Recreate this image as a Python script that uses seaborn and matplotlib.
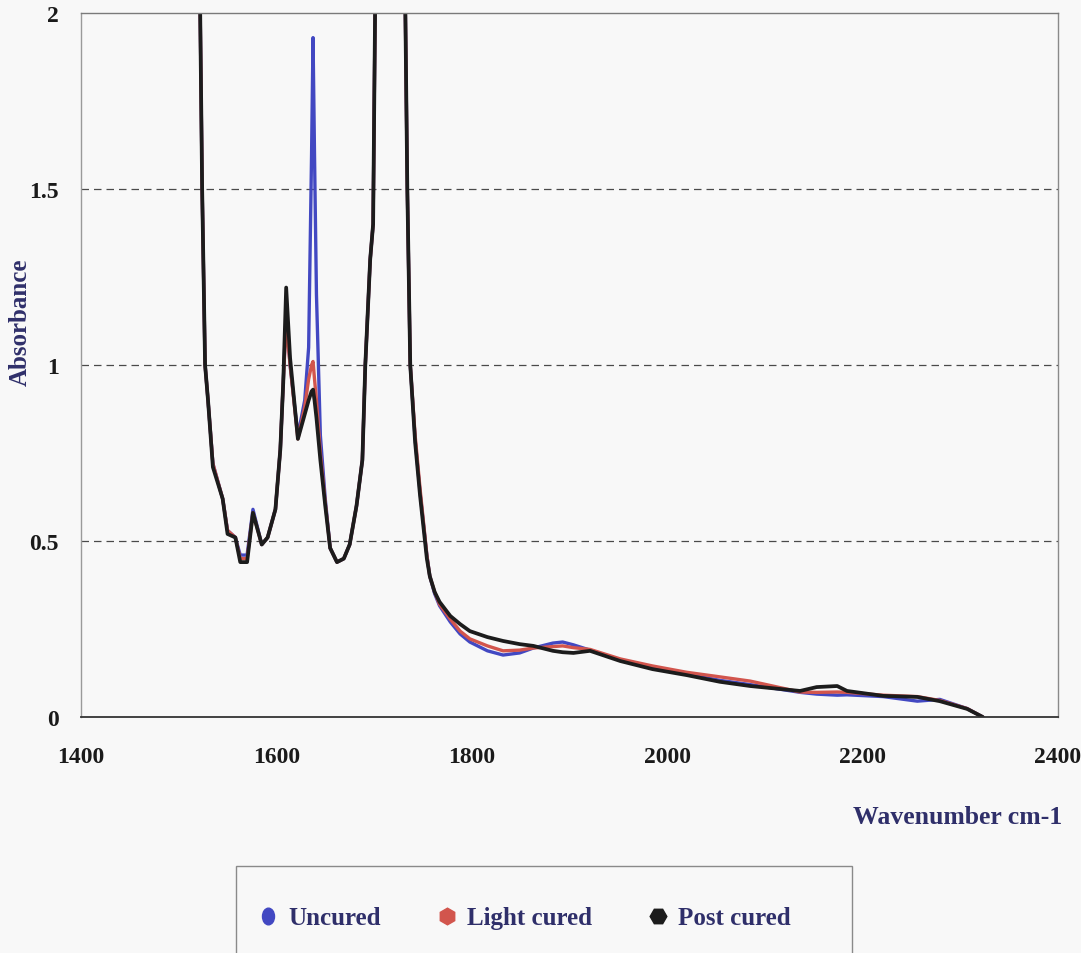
import numpy as np
import pandas as pd
import seaborn as sns
import matplotlib
matplotlib.use("Agg")
import matplotlib.pyplot as plt
from matplotlib.lines import Line2D
from matplotlib.patches import Rectangle
from matplotlib.markers import MarkerStyle
from matplotlib.transforms import Affine2D

# Wavenumber grid (cm-1) shared by the three spectra
wavenumber = [
    1522, 1524, 1527, 1530, 1535, 1545, 1550, 1558, 1563, 1570,
    1576, 1585, 1591, 1599, 1604, 1607, 1610, 1614, 1622, 1629,
    1633, 1636, 1637.5, 1639, 1641, 1645, 1650, 1655, 1662, 1669,
    1675, 1682, 1688, 1691, 1696, 1699, 1701, 1716, 1732, 1734,
    1737, 1742, 1747, 1754, 1757, 1762, 1767, 1778, 1788, 1798,
    1816, 1832, 1849, 1863, 1883, 1893, 1904, 1921, 1952, 1985,
    2020, 2054, 2085, 2136, 2153, 2174, 2184, 2221, 2256, 2279,
    2307, 2323,
]

uncured = [
    2.0, 1.5, 1.0, 0.90, 0.72, 0.62, 0.53, 0.51, 0.46, 0.46,
    0.59, 0.49, 0.51, 0.59, 0.76, 0.95, 1.15, 1.00, 0.80, 0.90,
    1.05, 1.60, 1.93, 1.60, 1.20, 0.80, 0.62, 0.48, 0.44, 0.45,
    0.49, 0.60, 0.73, 1.00, 1.30, 1.40, 2.0, 2.6, 2.0, 1.5,
    1.0, 0.79, 0.64, 0.46, 0.40, 0.35, 0.316, 0.27, 0.236, 0.213,
    0.188, 0.176, 0.182, 0.196, 0.210, 0.213, 0.205, 0.190, 0.162, 0.140,
    0.122, 0.104, 0.092, 0.070, 0.065, 0.062, 0.063, 0.058, 0.045, 0.050,
    0.024, 0.0,
]

light_cured = [
    2.0, 1.5, 1.0, 0.90, 0.72, 0.62, 0.53, 0.51, 0.45, 0.45,
    0.58, 0.49, 0.51, 0.59, 0.76, 0.95, 1.12, 1.00, 0.79, 0.88,
    0.96, 1.00, 1.01, 0.96, 0.90, 0.75, 0.61, 0.48, 0.44, 0.45,
    0.49, 0.60, 0.73, 1.00, 1.30, 1.40, 2.0, 2.6, 2.0, 1.5,
    1.0, 0.80, 0.65, 0.46, 0.40, 0.355, 0.32, 0.278, 0.244, 0.222,
    0.202, 0.188, 0.190, 0.196, 0.200, 0.202, 0.197, 0.192, 0.165, 0.145,
    0.127, 0.114, 0.102, 0.071, 0.070, 0.071, 0.070, 0.062, 0.058, 0.047,
    0.024, 0.0,
]

post_cured = [
    2.0, 1.5, 1.0, 0.90, 0.71, 0.62, 0.52, 0.51, 0.44, 0.44,
    0.58, 0.49, 0.51, 0.59, 0.76, 0.95, 1.22, 1.02, 0.79, 0.86,
    0.90, 0.925, 0.93, 0.90, 0.85, 0.73, 0.60, 0.48, 0.44, 0.45,
    0.49, 0.60, 0.73, 1.00, 1.30, 1.40, 2.0, 2.6, 2.0, 1.5,
    1.0, 0.78, 0.63, 0.45, 0.40, 0.355, 0.327, 0.287, 0.264, 0.244,
    0.227, 0.216, 0.207, 0.202, 0.188, 0.184, 0.182, 0.188, 0.159, 0.136,
    0.119, 0.100, 0.088, 0.074, 0.085, 0.088, 0.074, 0.060, 0.057, 0.045,
    0.023, 0.0,
]

series_names = ["Uncured", "Light cured", "Post cured"]
series_colors = ["#4248c2", "#d2554d", "#1c1c1c"]
x_ticks = [1400, 1600, 1800, 2000, 2200, 2400]
y_ticks = [0, 0.5, 1, 1.5, 2]
y_tick_labels = ["0", "0.5", "1", "1.5", "2"]

frames = []
for name, values in zip(series_names, [uncured, light_cured, post_cured]):
    frames.append(pd.DataFrame({"Wavenumber": wavenumber,
                                "Absorbance": values,
                                "Sample": name}))
spectra = pd.concat(frames, ignore_index=True)

sns.set_theme(style="white")
plt.rcParams["font.family"] = ["Liberation Serif", "DejaVu Serif"]
plt.rcParams["font.weight"] = "bold"

bg = "#f8f8f8"
fig = plt.figure(figsize=(10.81, 9.54), dpi=100, facecolor=bg)
ax = fig.add_axes([81 / 1081, 236 / 954, 977 / 1081, 704 / 954])
ax.set_facecolor(bg)

sns.lineplot(data=spectra, x="Wavenumber", y="Absorbance", hue="Sample",
             hue_order=series_names, palette=series_colors,
             estimator=None, sort=False, linewidth=2.4, legend=False, ax=ax)
for line in ax.lines:
    line.set_solid_joinstyle("round")
    line.set_solid_capstyle("round")
    if line.get_color() == series_colors[2]:
        line.set_linewidth(2.7)

ax.set_xlim(1400, 2400)
ax.set_ylim(0, 2)
ax.set_xticks(x_ticks)
ax.set_xticklabels([str(t) for t in x_ticks])
ax.set_yticks(y_ticks)
ax.set_yticklabels(y_tick_labels)
ax.tick_params(axis="both", length=0, labelsize=17, labelcolor="#1a1a1a")
ax.tick_params(axis="x", pad=21)
ax.tick_params(axis="y", pad=16)
for lab in ax.get_xticklabels() + ax.get_yticklabels():
    lab.set_fontweight("bold")

for yv in [0.5, 1.0, 1.5]:
    ax.axhline(yv, color="#4a4a4a", linewidth=0.9,
               linestyle=(0, (6, 4)), zorder=0.5)

for side, col, lw in [("left", "#9a9a9a", 1.0), ("top", "#7a7a7a", 1.0),
                      ("right", "#8a8a8a", 1.0), ("bottom", "#333333", 1.3)]:
    ax.spines[side].set_visible(True)
    ax.spines[side].set_color(col)
    ax.spines[side].set_linewidth(lw)

label_color = "#2f2f6a"
ax.set_xlabel("Wavenumber cm-1", fontsize=18.5, fontweight="bold",
              color=label_color)
ax.xaxis.set_label_coords(0.897, -0.142)
ax.xaxis.label.set_va("center")
ax.set_ylabel("Absorbance", fontsize=18, fontweight="bold", color=label_color)
ax.yaxis.set_label_coords(-0.0624, 0.5625)
ax.yaxis.label.set_va("center")

# Legend frame, running off the bottom edge of the figure
fig.patches.append(Rectangle((236 / 1081, -20 / 954), 616 / 1081, 107 / 954,
                             transform=fig.transFigure, facecolor=bg,
                             edgecolor="#8a8a8a", linewidth=1.0))

oval = MarkerStyle("o", transform=Affine2D().scale(0.72, 1.0))
handles = [
    Line2D([], [], linestyle="none", marker=oval, markersize=12,
           color=series_colors[0]),
    Line2D([], [], linestyle="none", marker="h", markersize=12,
           color=series_colors[1]),
    Line2D([], [], linestyle="none", marker="H", markersize=12,
           color=series_colors[2]),
]
leg = fig.legend(handles, series_names, loc="center",
                 bbox_to_anchor=(524 / 1081, 1 - 919 / 954), ncol=3,
                 frameon=False, handlelength=0.9, handletextpad=0.35,
                 columnspacing=2.2,
                 prop={"family": "Liberation Serif", "weight": "bold",
                       "size": 18})
for txt in leg.get_texts():
    txt.set_color(label_color)

fig.savefig("out.png", dpi=100, facecolor=bg)
